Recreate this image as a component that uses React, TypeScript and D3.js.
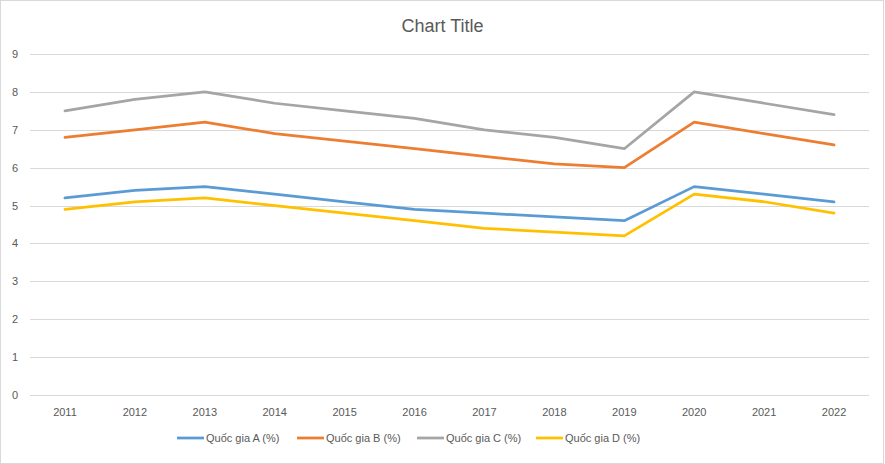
import React, { useRef, useEffect } from "react";
import * as d3 from "d3";

const years = ["2011", "2012", "2013", "2014", "2015", "2016", "2017", "2018", "2019", "2020", "2021", "2022"];
const seriesNames = ["Quốc gia A (%)", "Quốc gia B (%)", "Quốc gia C (%)", "Quốc gia D (%)"];
const quocGiaA = [5.2, 5.4, 5.5, 5.3, 5.1, 4.9, 4.8, 4.7, 4.6, 5.5, 5.3, 5.1];
const quocGiaB = [6.8, 7.0, 7.2, 6.9, 6.7, 6.5, 6.3, 6.1, 6.0, 7.2, 6.9, 6.6];
const quocGiaC = [7.5, 7.8, 8.0, 7.7, 7.5, 7.3, 7.0, 6.8, 6.5, 8.0, 7.7, 7.4];
const quocGiaD = [4.9, 5.1, 5.2, 5.0, 4.8, 4.6, 4.4, 4.3, 4.2, 5.3, 5.1, 4.8];
const yTicks = [0, 1, 2, 3, 4, 5, 6, 7, 8, 9];

const colors = ["#5B9BD5", "#ED7D31", "#A5A5A5", "#FFC000"];

const App: React.FC = () => {
  const svgRef = useRef<SVGSVGElement | null>(null);

  useEffect(() => {
    if (!svgRef.current) return;
    const W = 885;
    const H = 464;
    const margin = { top: 54, right: 16, bottom: 69, left: 30 };

    const svg = d3.select(svgRef.current).attr("width", W).attr("height", H);
    svg.selectAll("*").remove();

    // chart area border
    svg
      .append("rect")
      .attr("x", 0.5)
      .attr("y", 0.5)
      .attr("width", W - 2)
      .attr("height", H - 1)
      .attr("fill", "#fff")
      .attr("stroke", "#d9d9d9");

    const x = d3
      .scaleBand<string>()
      .domain(years)
      .range([margin.left, W - margin.right]);

    const y = d3
      .scaleLinear()
      .domain([0, 9])
      .range([H - margin.bottom, margin.top]);

    // gridlines
    svg
      .append("g")
      .selectAll("line")
      .data(yTicks)
      .enter()
      .append("line")
      .attr("x1", margin.left)
      .attr("x2", W - margin.right)
      .attr("y1", (d) => Math.round(y(d)) + 0.5)
      .attr("y2", (d) => Math.round(y(d)) + 0.5)
      .attr("stroke", "#d9d9d9")
      .attr("stroke-width", 1);

    // y labels
    svg
      .append("g")
      .selectAll("text")
      .data(yTicks)
      .enter()
      .append("text")
      .attr("x", 18)
      .attr("y", (d) => y(d) + 4)
      .attr("text-anchor", "end")
      .attr("font-family", "Liberation Sans, Arial, sans-serif")
      .attr("font-size", 11)
      .attr("fill", "#595959")
      .text((d) => d);

    // x labels
    svg
      .append("g")
      .selectAll("text")
      .data(years)
      .enter()
      .append("text")
      .attr("x", (d) => x(d)! + x.bandwidth() / 2)
      .attr("y", 416)
      .attr("text-anchor", "middle")
      .attr("font-family", "Liberation Sans, Arial, sans-serif")
      .attr("font-size", 11)
      .attr("fill", "#595959")
      .text((d) => d);

    // lines
    const allSeries = [quocGiaA, quocGiaB, quocGiaC, quocGiaD];
    const line = d3
      .line<number>()
      .x((_, i) => x(years[i])! + x.bandwidth() / 2)
      .y((d) => y(d));

    allSeries.forEach((s, i) => {
      svg
        .append("path")
        .datum(s)
        .attr("d", line)
        .attr("fill", "none")
        .attr("stroke", colors[i])
        .attr("stroke-width", 2.75)
        .attr("stroke-linejoin", "round")
        .attr("stroke-linecap", "round");
    });

    // title
    svg
      .append("text")
      .attr("x", W / 2)
      .attr("y", 32)
      .attr("text-anchor", "middle")
      .attr("font-family", "Liberation Sans, Arial, sans-serif")
      .attr("font-size", 18)
      .attr("fill", "#595959")
      .text("Chart Title");

    // legend
    const legendX = [177, 297, 417, 536];
    const legend = svg.append("g");
    seriesNames.forEach((name, i) => {
      legend
        .append("line")
        .attr("x1", legendX[i])
        .attr("x2", legendX[i] + 27)
        .attr("y1", 438)
        .attr("y2", 438)
        .attr("stroke", colors[i])
        .attr("stroke-width", 2.75);
      legend
        .append("text")
        .attr("x", legendX[i] + 29)
        .attr("y", 442)
        .attr("font-family", "Liberation Sans, Arial, sans-serif")
        .attr("font-size", 11)
        .attr("fill", "#595959")
        .text(name);
    });
  }, []);

  return (
    <div style={{ position: "absolute", left: 0, top: 0 }}>
      <svg ref={svgRef}></svg>
    </div>
  );
};

export default App;
